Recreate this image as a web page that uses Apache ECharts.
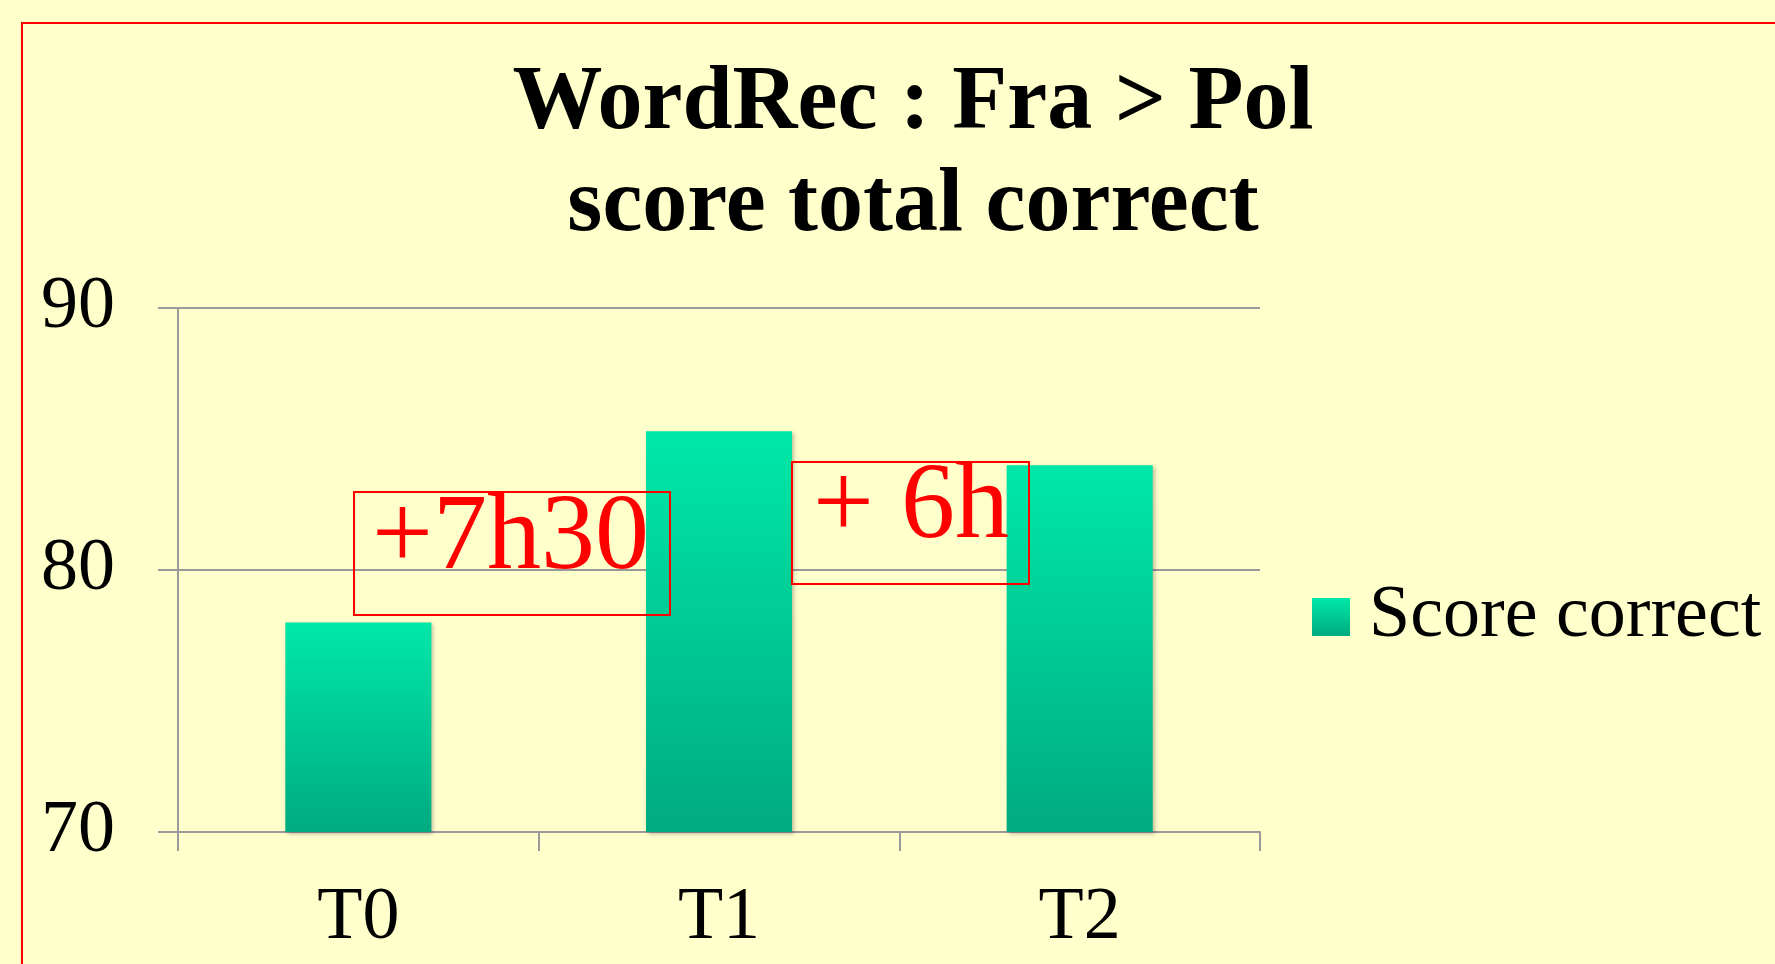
<!DOCTYPE html>
<html>
<head>
<meta charset="utf-8">
<script src="https://cdn.jsdelivr.net/npm/echarts@6/dist/echarts.min.js"></script>
<style>
  html, body { margin: 0; padding: 0; background: #ffffcc; }
  #chart { width: 1775px; height: 964px; }
</style>
</head>
<body>
<div id="chart"></div>
<script>
// data
const categories = ["T0", "T1", "T2"];
const scoreCorrect = [78.0, 85.3, 84.0];
const yTicks = [70, 80, 90];
const titleLines = ["WordRec : Fra > Pol", "score total correct"];
const notes = ["+7h30", "+ 6h"];

const serif = "'Liberation Serif', 'Times New Roman', serif";

const barGradient = new echarts.graphic.LinearGradient(0, 0, 0, 1, [
    { offset: 0, color: "#00e8a8" },
    { offset: 1, color: "#00ab7f" }
]);

const chart = echarts.init(document.getElementById("chart"));

const options = {
    backgroundColor: "#ffffcc",
    animation: false,
    title: {
        text: titleLines.join("\n"),
        left: 908,
        top: 49,
        textAlign: "center",
        textStyle: {
            fontFamily: serif,
            fontWeight: "bold",
            fontSize: 90,
            lineHeight: 102,
            color: "#000"
        }
    },
    legend: {
        left: 1307,
        top: 575,
        itemWidth: 38,
        itemHeight: 38,
        itemGap: 0,
        icon: "rect",
        textStyle: { fontFamily: serif, fontSize: 74, color: "#000", padding: [0, 0, 0, 14] },
        data: ["Score correct"]
    },
    grid: {
        left: 178,
        right: 515,
        top: 308,
        bottom: 132
    },
    xAxis: {
        type: "category",
        data: categories,
        boundaryGap: true,
        axisLine: { lineStyle: { color: "#9a9a9a", width: 2 } },
        axisTick: { show: true, length: 19, lineStyle: { color: "#9a9a9a", width: 2 } },
        axisLabel: { fontFamily: serif, fontSize: 74, color: "#000", margin: 50 }
    },
    yAxis: {
        type: "value",
        min: yTicks[0],
        max: yTicks[yTicks.length - 1],
        interval: 10,
        axisLine: { show: true, lineStyle: { color: "#9a9a9a", width: 2 } },
        axisTick: { show: true, length: 20, lineStyle: { color: "#9a9a9a", width: 2 } },
        splitLine: { lineStyle: { color: "#9a9a9a", width: 2 } },
        axisLabel: { fontFamily: serif, fontSize: 74, color: "#000", margin: 63 }
    },
    series: [{
        name: "Score correct",
        type: "bar",
        data: scoreCorrect,
        barWidth: "40.5%",
        itemStyle: {
            color: barGradient,
            shadowBlur: 4,
            shadowColor: "rgba(0,0,0,0.25)",
            shadowOffsetX: 2,
            shadowOffsetY: 2
        }
    }],
    graphic: [
        {
            type: "rect",
            shape: { x: 22, y: 23, width: 2000, height: 2000 },
            style: { fill: null, stroke: "#ff0000", lineWidth: 2 },
            z: 100
        },
        {
            type: "rect",
            shape: { x: 354, y: 492, width: 316, height: 123 },
            style: { fill: null, stroke: "#ff0000", lineWidth: 2 },
            z: 100
        },
        {
            type: "text",
            x: 372, y: 540,
            style: { text: notes[0], fill: "#ff0000", font: "108px " + serif, verticalAlign: "middle" },
            z: 100
        },
        {
            type: "rect",
            shape: { x: 792, y: 462, width: 237, height: 122 },
            style: { fill: null, stroke: "#ff0000", lineWidth: 2 },
            z: 100
        },
        {
            type: "text",
            x: 813, y: 509,
            style: { text: notes[1], fill: "#ff0000", font: "108px " + serif, verticalAlign: "middle" },
            z: 100
        }
    ]
};

chart.setOption(options);
</script>
</body>
</html>
